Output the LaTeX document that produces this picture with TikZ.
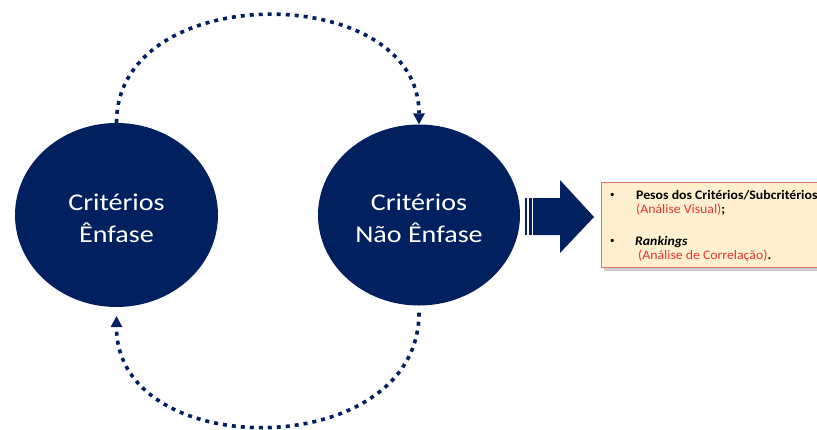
\documentclass[tikz,border=0pt]{standalone}
\usepackage{fontspec}
\setmainfont{Carlito}
\newfontfamily\circfont[FakeStretch=1.17]{Carlito}
\newfontfamily\boxfont[FakeStretch=1.06]{Carlito}
\usetikzlibrary{shapes.geometric,arrows.meta,shadows}
\definecolor{navy}{RGB}{0,32,96}
\definecolor{boxfill}{RGB}{254,240,206}
\definecolor{boxline}{RGB}{225,115,115}
\definecolor{txtred}{RGB}{228,52,52}
\tikzset{
  bigcirc/.style={ellipse, fill=navy, inner sep=0pt},
  circtxt/.style={anchor=base, inner sep=0pt, text=white, font=\circfont\fontsize{24}{28}\selectfont},
  loop/.style={navy, line width=3.6pt, dash pattern=on 4pt off 5pt,
    -{Triangle[length=11pt,width=12pt,line width=0pt]}},
  notebox/.style={rectangle, fill=boxfill, draw=boxline, line width=1pt,
    drop shadow={shadow xshift=2pt, shadow yshift=-3pt, fill=black!40}},
  boxtxt/.style={anchor=base west, inner sep=0pt, font=\boxfont\fontsize{13}{14}\selectfont},
  bullettxt/.style={anchor=base west, inner sep=0pt, font=\fontsize{9}{10}\selectfont},
}
\begin{document}
\begin{tikzpicture}[x=1pt,y=-1pt]
\useasboundingbox (0,0) rectangle (817,429);
\clip (0,0) rectangle (817,429);
\node[bigcirc, minimum width=203pt, minimum height=184pt] (L) at (116.5,215) {};
\node[bigcirc, minimum width=202pt, minimum height=181pt] (R) at (419,215) {};
\node[circtxt] (l1) at (116.5,210) {Critérios};
\node[circtxt] (l2) at (116.5,242) {Ênfase};
\node[circtxt] (r1) at (419,210) {Critérios};
\node[circtxt] (r2) at (419,242) {Não Ênfase};
% loops
\draw[loop] (L.north) .. controls +(0,-144) and +(0,-144) .. (R.north);
\draw[loop, shorten <=7pt, shorten >=9pt] (R.south) .. controls +(0,157) and +(0,157) .. (L.south);
% striped arrow
\fill[navy] (525,198) rectangle (527,235);
\fill[navy] (528.5,198) rectangle (531.5,235);
\fill[navy] (533,198) -- (560,198) -- (560,180) -- (594,217) -- (560,253) -- (560,235) -- (533,235) -- cycle;
% note box
\node[notebox, minimum width=240pt, minimum height=85pt, anchor=north west] (B) at (601,182) {};
\node[bullettxt] (b1) at (610,197) {•};
\node[boxtxt] (t1) at (636,199) {\textbf{Pesos dos Critérios/Subcritérios}};
\node[boxtxt] (t2) at (636,213) {\textcolor{txtred}{(Análise Visual)}\textbf{;}};
\node[bullettxt] (b2) at (610,243) {•};
\node[boxtxt] (t3) at (635,245) {\textbf{\textit{Rankings}}};
\node[boxtxt] (t4) at (638,259) {\textcolor{txtred}{(Análise de Correlação)}\textbf{.}};
\end{tikzpicture}
\end{document}
